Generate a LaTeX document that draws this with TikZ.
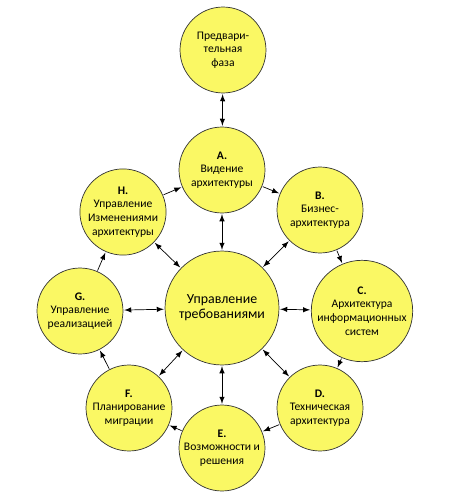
\documentclass[tikz,border=0pt]{standalone}
\usepackage{fontspec}
\setmainfont{Carlito}
\definecolor{phaseyellow}{RGB}{250,248,100}
\begin{document}
\begin{tikzpicture}[x=0.02cm,y=-0.02cm,line cap=round,line join=round,>=latex,
  phase/.style={circle,draw=black!80,fill=phaseyellow,inner sep=0pt,minimum size=1.72cm,
    align=center,font=\fontsize{6.6}{7.8}\selectfont},
  hub/.style={phase,minimum size=2.28cm,font=\fontsize{7.9}{8.6}\selectfont},
  link/.style={->,thin,color=black,shorten >=0.5pt,shorten <=0.5pt}]
\useasboundingbox (0,0) rectangle (458,500);
\node[hub] (req) at (222,308) {Управление\\требованиями};
\node[phase] (pre) at (223,50) {Предвари-\\тельная\\фаза};
\node[phase] (a) at (222,170) {\textbf{A.}\\Видение\\архитектуры};
\node[phase] (b) at (320,210) {\textbf{B.}\\Бизнес-\\архитектура};
\node[phase] (c) at (362,311) {\textbf{C.}\\Архитектура\\информационных\\систем};
\node[phase] (d) at (320,408) {\textbf{D.}\\Техническая\\архитектура};
\node[phase] (e) at (222,448) {\textbf{E.}\\Возможности и\\решения};
\node[phase] (f) at (129,408) {\textbf{F.}\\Планирование\\миграции};
\node[phase] (g) at (80,311) {\textbf{G.}\\Управление\\реализацией};
\node[phase] (h) at (123,212) {\textbf{H.}\\Управление\\Изменениями\\архитектуры};
\draw[link,<->] (pre) -- (a);
\foreach \p/\q in {a/b,b/c,c/d,d/e,e/f,f/g,g/h,h/a}
\draw[link] (\p) -- (\q);
\foreach \p in {a,b,c,d,e,f,g,h}
\draw[link,<->] (req) -- (\p);
\end{tikzpicture}
\end{document}
